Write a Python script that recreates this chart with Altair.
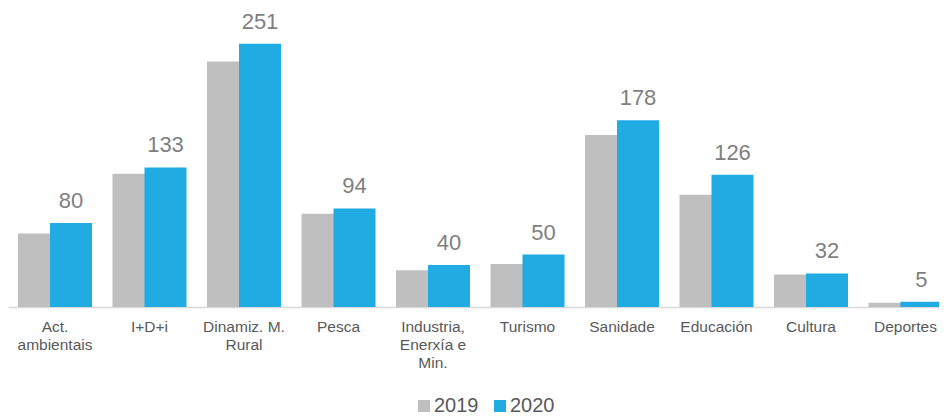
import altair as alt
import pandas as pd

categories = ["Act.\nambientais", "I+D+i", "Dinamiz. M.\nRural", "Pesca",
              "Industria,\nEnerxía e\nMin.", "Turismo", "Sanidade", "Educación",
              "Cultura", "Deportes"]
values_2019 = [70, 127, 234, 89, 35, 41, 164, 107, 31, 4]
values_2020 = [80, 133, 251, 94, 40, 50, 178, 126, 32, 5]
years = ["2019", "2020"]
colors = ["#BFBFBF", "#20ABE2"]

rows = []
for i, (c, a, b) in enumerate(zip(categories, values_2019, values_2020)):
    rows.append({"i": i, "cat": c, "year": "2019", "value": a})
    rows.append({"i": i, "cat": c, "year": "2020", "value": b})
df = pd.DataFrame(rows)

FONT = "Liberation Sans"

x = alt.X("i:Q",
          scale=alt.Scale(domain=[-0.4974, 9.3545], nice=False, zero=False, padding=0),
          axis=alt.Axis(labels=False, ticks=False, grid=False, domain=True,
                        domainColor="#D9D9D9", domainWidth=1.5, title=None))
y = alt.Y("value:Q", scale=alt.Scale(domain=[0, 285], nice=False, padding=0), axis=None)
color = alt.Color("year:N", scale=alt.Scale(domain=years, range=colors),
                  legend=alt.Legend(title=None, orient="none", legendX=406, legendY=388,
                                    direction="horizontal", symbolType="square",
                                    symbolSize=144, symbolStrokeWidth=0,
                                    labelFontSize=20, labelColor="#595959",
                                    labelFont=FONT, labelOffset=0,
                                    columnPadding=11, padding=0))

base = alt.Chart(df)
bars19 = base.transform_filter("datum.year == '2019'").mark_bar(
    width=42, xOffset=-16).encode(x=x, y=y, color=color)
bars20 = base.transform_filter("datum.year == '2020'").mark_bar(
    width=42, xOffset=16).encode(x=x, y=y, color=color)
vals = base.transform_filter("datum.year == '2020'").mark_text(
    xOffset=16, dy=-15, baseline="alphabetic", fontSize=22, font=FONT,
    color="#7F7F7F").encode(x=x, y=y, text="value:Q")
labels = base.transform_filter("datum.year == '2019'").mark_text(
    lineBreak="\n", baseline="alphabetic", fontSize=15.5, lineHeight=18,
    color="#595959", font=FONT).encode(x=x, y=alt.value(324), text="cat:N")

chart = alt.layer(bars19, bars20, vals, labels).properties(
    width=931, height=299,
    autosize=alt.AutoSizeParams(type="none"),
    padding={"left": 0, "top": 0, "right": 0, "bottom": 110},
).configure_view(strokeWidth=0)

chart.save("out.html", embed_options={"renderer": "svg", "actions": False})
